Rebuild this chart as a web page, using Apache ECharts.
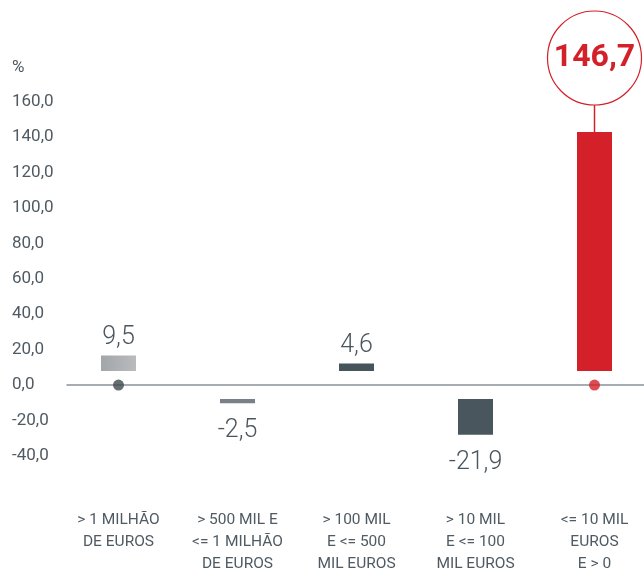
<!DOCTYPE html>
<html>
<head>
<meta charset="utf-8">
<script src="https://cdn.jsdelivr.net/npm/echarts@6/dist/echarts.min.js"></script>
<style>html,body{margin:0;padding:0;background:#fff}#c{width:644px;height:572px}</style>
</head>
<body>
<div id="c"></div>
<script>
// ---- data ----
var categories = [
  '> 1 MILHÃO\nDE EUROS',
  '> 500 MIL E\n<= 1 MILHÃO\nDE EUROS',
  '> 100 MIL\nE <= 500\nMIL EUROS',
  '> 10 MIL\nE <= 100\nMIL EUROS',
  '<= 10 MIL\nEUROS\nE > 0'
];
var values = [9.5, -2.5, 4.6, -21.9, 146.7];
var yTicks = [-40, -20, 0, 20, 40, 60, 80, 100, 120, 140, 160];
var barColors = ['#a9acaf', '#7b8088', '#46545c', '#49565e', '#d42029'];
var highlightIndex = 4;
var dotIndices = [0, 4];
var dotColors = ['#3f4a50', '#d42029'];

// ---- layout constants ----
var GAP = 8.6;          // visual gap between zero line and bars (bar-axis units)
var BAR_AXIS_MAX = 174; // hidden bar axis
var fmt = function (v) { return v.toFixed(1).replace('.', ','); };
var textColor = '#4f5a62';

var chart = echarts.init(document.getElementById('c'), null, {renderer: 'canvas'});

var baseData = values.map(function (v) { return v >= 0 ? GAP : -GAP; });
var barData = values.map(function (v, i) {
  var item = {
    value: v,
    itemStyle: { color: barColors[i] },
    label: v >= 0 ? { position: 'top', distance: 5 } : { position: 'bottom', distance: 15 }
  };
  if (i === highlightIndex) {
    item.label = {
      position: 'top',
      distance: 0,
      formatter: function (p) { return '{c|' + fmt(p.value) + '}\n{s| }'; },
      rich: {
        c: {
          width: 94, height: 94, lineHeight: 94, borderRadius: 47,
          borderColor: '#d42029', borderWidth: 1.2,
          align: 'center', fontSize: 32, fontWeight: 'bold',
          fontFamily: "'Liberation Sans Narrow', Roboto, sans-serif",
          color: '#d42029'
        },
        s: { width: 1.5, height: 27, lineHeight: 27, backgroundColor: '#d42029', fontSize: 1 }
      }
    };
  }
  if (i === 0) {
    item.itemStyle = {
      color: new echarts.graphic.LinearGradient(0, 0, 1, 0, [
        { offset: 0, color: '#a3a6a9' }, { offset: 1, color: '#b9bbbe' }
      ])
    };
  }
  return item;
});

var gridTop = 101.5, gridBottom = 116;

var option = {
  animation: false,
  title: {
    text: '%', left: 7, top: 54,
    textStyle: { fontSize: 17, fontWeight: 'normal', color: textColor, fontFamily: 'Roboto' }
  },
  grid: [
    { left: 59, right: -10, top: gridTop, bottom: gridBottom, outerBoundsMode: 'none', containLabel: false },
    { left: 67, right: 0, top: gridTop, bottom: gridBottom, outerBoundsMode: 'none', containLabel: false }
  ],
  xAxis: [
    {
      type: 'category', gridIndex: 0, data: categories,
      axisLine: { show: false }, axisTick: { show: false }, splitLine: { show: false },
      axisLabel: {
        interval: 0, margin: 53, fontSize: 15.5, lineHeight: 22,
        color: textColor, fontFamily: 'Roboto'
      }
    },
    {
      type: 'value', gridIndex: 1, min: 0, max: 1,
      axisLine: { show: true, onZero: true, lineStyle: { color: '#8a9197', width: 1.5 } },
      axisTick: { show: false }, axisLabel: { show: false }, splitLine: { show: false }
    }
  ],
  yAxis: [
    {
      type: 'value', gridIndex: 0, min: -BAR_AXIS_MAX / 4, max: BAR_AXIS_MAX, show: false
    },
    {
      type: 'value', gridIndex: 1, min: yTicks[0], max: yTicks[yTicks.length - 1], interval: 20,
      axisLine: { show: false }, axisTick: { show: false }, splitLine: { show: false },
      axisLabel: {
        formatter: fmt, align: 'left', margin: 55, padding: [3, 0, 0, 0],
        fontSize: 17, color: textColor, fontFamily: 'Roboto'
      }
    }
  ],
  series: [
    {
      type: 'bar', xAxisIndex: 0, yAxisIndex: 0, stack: 'b', barWidth: 35,
      data: baseData,
      itemStyle: { color: 'rgba(0,0,0,0)' },
      silent: true
    },
    {
      type: 'bar', xAxisIndex: 0, yAxisIndex: 0, stack: 'b', barWidth: 35,
      data: barData,
      label: {
        show: true, formatter: function (p) { return fmt(p.value); },
        fontSize: 25, fontWeight: 300, color: '#4a555d', fontFamily: 'Roboto'
      }
    },
    {
      type: 'scatter', xAxisIndex: 0, yAxisIndex: 0, symbolSize: 11, z: 5,
      data: dotIndices.map(function (idx, k) {
        return { value: [idx, 0], itemStyle: { color: dotColors[k] } };
      })
    }
  ]
};
chart.setOption(option);
</script>
</body>
</html>
